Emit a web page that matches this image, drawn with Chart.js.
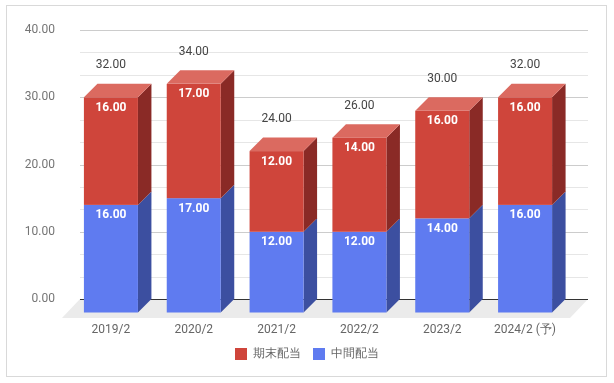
<!DOCTYPE html>
<html>
<head>
<meta charset="utf-8">
<script src="https://cdn.jsdelivr.net/npm/chart.js@4.4.0/dist/chart.umd.min.js"></script>
<style>
  html, body { margin: 0; padding: 0; background: #fff; }
  #wrap { width: 614px; height: 383px; position: relative; }
</style>
</head>
<body>
<div id="wrap"><canvas id="divChart"></canvas></div>
<script>
const labels = ["2019/2", "2020/2", "2021/2", "2022/2", "2023/2", "2024/2 (予)"];
const interimDiv = [16, 17, 12, 12, 14, 16];   // 中間配当
const yearEndDiv = [16, 17, 12, 14, 16, 16];   // 期末配当
const yTicks = [0, 10, 20, 30, 40];

const D = 13.5; // depth of the fake 3d
const frontColors = ["#5f7bf0", "#cf453b"];
const sideColors = ["#3c4fa0", "#8a2a26"];
const topColors = ["#8196f3", "#db6a60"];

function poly(ctx, pts) {
    ctx.beginPath();
    ctx.moveTo(pts[0][0], pts[0][1]);
    for (let i = 1; i < pts.length; i++) ctx.lineTo(pts[i][0], pts[i][1]);
    ctx.closePath();
    ctx.fill();
}

const bar3d = {
    id: "bar3d",
    beforeDraw(chart) {
        const ctx = chart.ctx;
        ctx.save();
        ctx.fillStyle = "#fff";
        ctx.fillRect(0, 0, chart.width, chart.height);
        ctx.strokeStyle = "#d9d9d9";
        ctx.lineWidth = 1;
        ctx.strokeRect(6.5, 5.5, 600, 371);
        ctx.restore();
    },
    beforeDatasetsDraw(chart) {
        const ctx = chart.ctx;
        const area = chart.chartArea;
        const y = chart.scales.y;
        const left = area.left - 3, right = area.right + 8;
        const zero = Math.round(y.getPixelForValue(0));
        ctx.save();
        // floor
        ctx.fillStyle = "#ebebeb";
        poly(ctx, [[left, zero], [right, zero], [right - 18, zero + 19], [left - 18, zero + 19]]);
        // grid lines, major every tick, two minor ones between
        y.ticks.forEach((t, i) => {
            const py = Math.round(y.getPixelForValue(t.value)) + 0.5;
            ctx.strokeStyle = i === 0 ? "#333" : "#cccccc";
            ctx.beginPath();
            ctx.moveTo(left, py);
            ctx.lineTo(right, py);
            ctx.stroke();
            if (i < y.ticks.length - 1) {
                const step = (y.ticks[i + 1].value - t.value) / 3;
                for (let k = 1; k < 3; k++) {
                    const my = Math.round(y.getPixelForValue(t.value + step * k)) + 0.5;
                    ctx.strokeStyle = "#e6e6e6";
                    ctx.beginPath();
                    ctx.moveTo(left, my);
                    ctx.lineTo(right, my);
                    ctx.stroke();
                }
            }
        });
        ctx.restore();
    },
    beforeDatasetDraw() {
        return false; // bars are drawn by hand below
    },
    afterDatasetsDraw(chart) {
        const ctx = chart.ctx;
        const sets = chart.data.datasets;
        ctx.save();
        ctx.textAlign = "center";
        ctx.textBaseline = "middle";
        for (let i = 0; i < chart.data.labels.length; i++) {
            let total = 0;
            let topEl = null;
            sets.forEach((ds, di) => {
                const el = chart.getDatasetMeta(di).data[i];
                const w = el.width;
                const x0 = el.x - w / 2 - D, x1 = el.x + w / 2 - D;
                const top = el.y + D, bot = el.base + D;
                ctx.fillStyle = sideColors[di];
                poly(ctx, [[x1, top], [x1 + D, top - D], [x1 + D, bot - D], [x1, bot]]);
                ctx.fillStyle = frontColors[di];
                ctx.fillRect(x0, top, w, bot - top);
                if (di === sets.length - 1) {
                    ctx.fillStyle = topColors[di];
                    poly(ctx, [[x0, top], [x0 + D, top - D], [x1 + D, top - D], [x1, top]]);
                }
                ctx.fillStyle = "#fff";
                ctx.font = "bold 12px Roboto";
                ctx.fillText(ds.data[i].toFixed(2), el.x - D, top + 10.5);
                total += ds.data[i];
                topEl = el;
            });
            ctx.fillStyle = "#444";
            ctx.font = "12px Roboto";
            ctx.fillText(total.toFixed(2), topEl.x - D, topEl.y - 18.5);
        }
        ctx.restore();
    }
};

new Chart(document.getElementById("divChart"), {
    type: "bar",
    data: {
        labels: labels,
        datasets: [
            {
                label: "中間配当",
                data: interimDiv,
                backgroundColor: frontColors[0]
            },
            {
                label: "期末配当",
                data: yearEndDiv,
                backgroundColor: frontColors[1]
            }
        ]
    },
    options: {
        responsive: true,
        maintainAspectRatio: false,
        animation: false,
        layout: {
            padding: { top: 30, right: 0, bottom: 13, left: 0 }
        },
        datasets: {
            bar: { categoryPercentage: 1, barPercentage: 0.652 }
        },
        scales: {
            x: {
                stacked: true,
                grid: { display: false, drawTicks: false },
                border: { display: false },
                ticks: {
                    color: "#666",
                    font: { family: "Roboto", size: 12, lineHeight: 1 },
                    padding: 25,
                    labelOffset: -D,
                    maxRotation: 0
                },
                afterFit: s => { s.height = 37; }
            },
            y: {
                stacked: true,
                min: 0,
                max: 40,
                grid: { display: false, drawTicks: false },
                border: { display: false },
                afterBuildTicks: s => { s.ticks = yTicks.map(v => ({ value: v })); },
                ticks: {
                    color: "#757575",
                    font: { family: "Roboto", size: 12 },
                    padding: 28,
                    callback: v => v.toFixed(2)
                },
                afterFit: s => {
                    s.width = 83;
                    // the tick padding would otherwise push the top of the plot down
                    s.paddingTop = 0;
                    s.paddingBottom = 0;
                }
            },
            // empty axis, only keeps room on the right side
            yRight: {
                position: "right",
                grid: { display: false, drawTicks: false },
                border: { display: false },
                ticks: { display: false },
                afterFit: s => { s.width = 34; }
            }
        },
        plugins: {
            tooltip: { enabled: false },
            legend: {
                position: "bottom",
                reverse: true,
                labels: {
                    color: "#666",
                    font: { family: "Roboto", size: 12 },
                    boxWidth: 12,
                    boxHeight: 12,
                    padding: 12
                }
            }
        }
    },
    plugins: [bar3d]
});
</script>
</body>
</html>
